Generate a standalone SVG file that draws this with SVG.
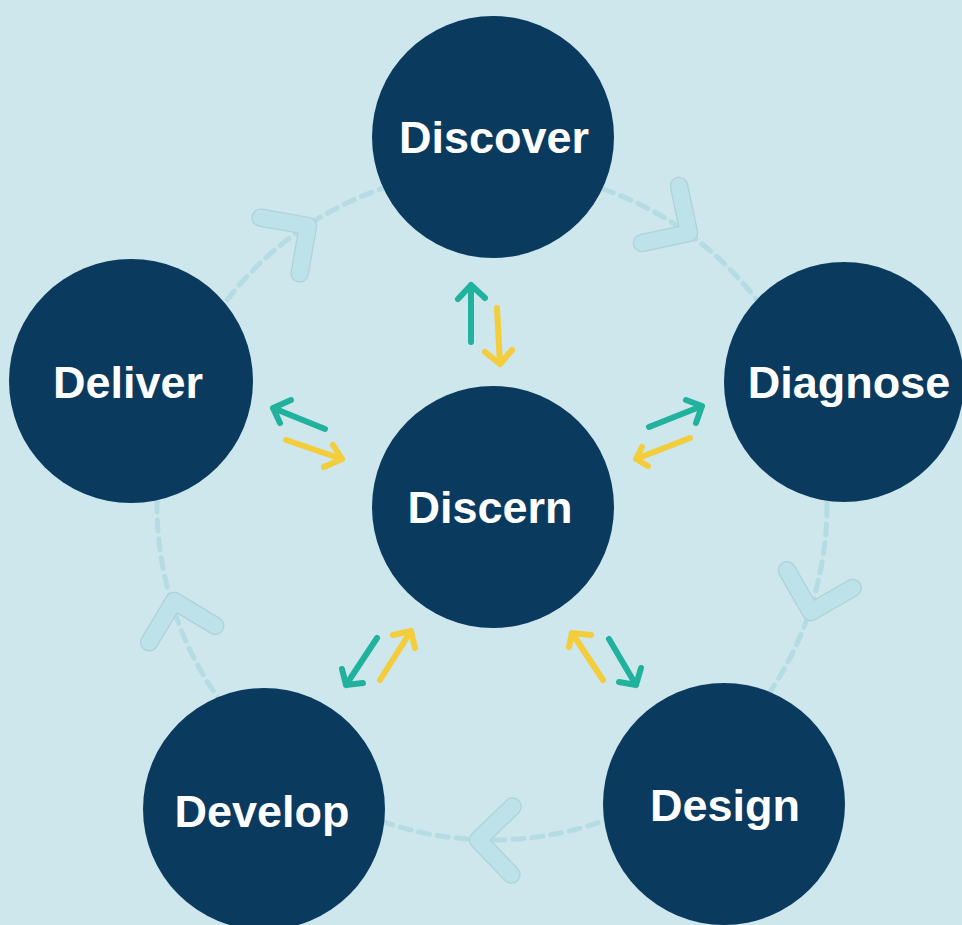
<svg xmlns="http://www.w3.org/2000/svg" width="962" height="925" viewBox="0 0 962 925">
<style>
.bg{fill:#cde7ec}
.ring{fill:none;stroke:#b5dbe3;stroke-width:5;stroke-dasharray:11 8;stroke-linecap:round}
.chev-o{fill:none;stroke:#aed2da;stroke-width:18.5;stroke-linecap:round;stroke-linejoin:round}
.chev{fill:none;stroke:#bde2e9;stroke-width:16;stroke-linecap:round;stroke-linejoin:round}
.node{fill:#0b3a5f}
.lbl{fill:#ffffff;font-family:"Liberation Sans",Arial,sans-serif;font-weight:bold;font-size:45px;text-anchor:middle}
.t{fill:none;stroke:#21b29d;stroke-width:6;stroke-linecap:round;stroke-linejoin:round}
.y{fill:none;stroke:#f4cd3c;stroke-width:6;stroke-linecap:round;stroke-linejoin:round}
</style>
<defs>
<g id="chevron">
<path class="chev-o" d="M -34 -34 L 0 0 L -34 34"/>
<path class="chev" d="M -34 -34 L 0 0 L -34 34"/>
</g>
</defs>
<rect class="bg" x="0" y="0" width="962" height="925"/>
<g id="ring">
<circle class="ring" cx="492" cy="505" r="335"/>
<use href="#chevron" transform="translate(689,233) rotate(33)"/>
<use href="#chevron" transform="translate(308,226) rotate(-35)"/>
<use href="#chevron" transform="translate(811,612) rotate(105)"/>
<use href="#chevron" transform="translate(478,840) rotate(181)"/>
<use href="#chevron" transform="translate(174,601) rotate(-104)"/>
</g>
<g id="connectors">
<path class="t" d="M471,342 L471,285 M458,299 L471,285 L485,298"/>
<path class="y" d="M497,308 L500,364 M485,352 L500,364 L512,350"/>
<path class="t" d="M325,429 L273,408 M291,400 L273,408 L280,423"/>
<path class="y" d="M286,440 L342,459 M333,445 L342,459 L324,467"/>
<path class="t" d="M649,427 L702,406 M686,400 L702,406 L696,423"/>
<path class="y" d="M690,438 L636,459 M642,447 L636,459 L648,466"/>
<path class="t" d="M377,638 L346,685 M342,669 L346,685 L363,683"/>
<path class="y" d="M380,680 L411,631 M393,635 L411,631 L415,648"/>
<path class="y" d="M603,680 L572,633 M591,635 L572,633 L569,647"/>
<path class="t" d="M609,639 L636,685 M619,682 L636,685 L641,668"/>
</g>
<g id="discover">
<circle class="node" cx="493" cy="137" r="121"/>
<text class="lbl" x="494" y="153">Discover</text>
</g>
<g id="diagnose">
<circle class="node" cx="844" cy="382" r="120"/>
<text class="lbl" x="849" y="398">Diagnose</text>
</g>
<g id="design">
<circle class="node" cx="724" cy="804" r="121"/>
<text class="lbl" x="725" y="821">Design</text>
</g>
<g id="develop">
<circle class="node" cx="264" cy="809" r="121"/>
<text class="lbl" x="262" y="827">Develop</text>
</g>
<g id="deliver">
<circle class="node" cx="131" cy="381" r="122"/>
<text class="lbl" x="128" y="398">Deliver</text>
</g>
<g id="discern">
<circle class="node" cx="493" cy="507" r="121"/>
<text class="lbl" x="490" y="523">Discern</text>
</g>
</svg>
